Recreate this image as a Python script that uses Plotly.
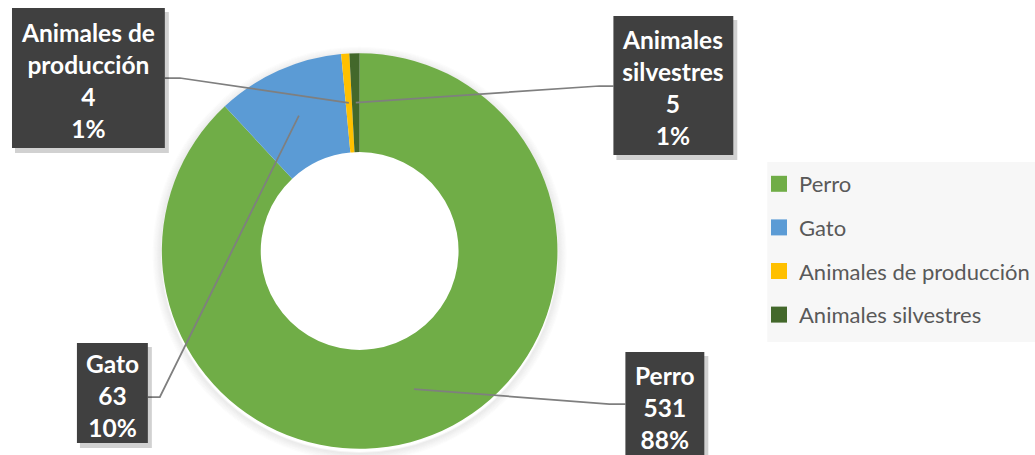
import plotly.graph_objects as go
import math

categories = ["Perro", "Gato", "Animales de producción", "Animales silvestres"]
values = [531, 63, 4, 5]
colors = ["#70AD47", "#5B9BD5", "#FFC000", "#43682B"]

W, H = 1035, 455
CX, CY, R = 360, 251, 198
HOLE = 0.5

# label boxes (pixel layout: x0, y0, x1, y1) and leader-line elbow points
boxes = {
    "Perro": (626, 352, 705, 470),
    "Gato": (77, 343, 148, 443),
    "Animales de producción": (12, 8, 165, 148),
    "Animales silvestres": (614, 16, 734, 155),
}
text_cy = {"Perro": 407, "Gato": 395, "Animales de producción": 80, "Animales silvestres": 87}
anchors = {  # (box edge point, elbow point)
    "Perro": ((626, 404), (610, 404)),
    "Gato": ((148, 397), (160, 397)),
    "Animales de producción": ((165, 78), (180, 78)),
    "Animales silvestres": ((614, 86), (600, 86)),
}
display_lines = {
    "Animales de producción": "Animales de<br>producción",
    "Animales silvestres": "Animales<br>silvestres",
}

def px(x):
    return x / W

def py(y):
    return (H - y) / H

fig = go.Figure()
fig.add_trace(go.Pie(
    labels=categories, values=values, hole=HOLE, sort=False,
    direction="clockwise", rotation=0,
    marker=dict(colors=colors, line=dict(color="#FFFFFF", width=0)),
    textinfo="none", showlegend=False,
    domain=dict(x=[px(CX - R), px(CX + R)], y=[py(CY + R), py(CY - R)]),
))

# legend via dummy traces for spacing control
for i, (c, col) in enumerate(zip(categories, colors)):
    fig.add_trace(go.Scatter(
        x=[None], y=[None], mode="markers", name=c, legendgroup=c,
        marker=dict(symbol="square", size=16, color=col),
    ))

shapes = []
annotations = []

# soft shadow ring around the donut
for k in range(1, 10):
    rr = R + k
    shapes.append(dict(type="circle", xref="paper", yref="paper",
                       x0=px(CX - rr), x1=px(CX + rr), y0=py(CY + 3 + rr), y1=py(CY + 3 - rr),
                       line=dict(color=f"rgba(0,0,0,{0.05 - 0.005 * k:.3f})", width=2),
                       layer="below"))

total = sum(values)
cum = 0
for c, v in zip(categories, values):
    mid = (cum + v / 2) / total * 2 * math.pi
    cum += v
    rmid = R * (1 + HOLE) / 2
    sx = CX + rmid * math.sin(mid)
    sy = CY - rmid * math.cos(mid)
    (ex, ey), (bx, by) = anchors[c]
    path = f"M {px(ex)} {py(ey)} L {px(bx)} {py(by)} L {px(sx)} {py(sy)}"
    shapes.append(dict(type="path", path=path, xref="paper", yref="paper",
                       line=dict(color="#7F7F7F", width=1.75), layer="above"))
    x0, y0, x1, y1 = boxes[c]
    # shadow
    shapes.append(dict(type="rect", xref="paper", yref="paper",
                       x0=px(x0 + 3), x1=px(x1 + 4), y0=py(y0 + 4), y1=py(y1 + 5),
                       fillcolor="rgba(0,0,0,0.18)", line=dict(width=0), layer="above"))
    shapes.append(dict(type="rect", xref="paper", yref="paper",
                       x0=px(x0), x1=px(x1), y0=py(y0), y1=py(y1),
                       fillcolor="#404040", line=dict(width=0), layer="above"))
    pct = round(v / total * 100)
    name = display_lines.get(c, c)
    annotations.append(dict(
        x=px((x0 + x1) / 2), y=py(text_cy[c]), xref="paper", yref="paper",
        text=f"<b>{name}<br>{v}<br>{pct}%</b>", showarrow=False,
        font=dict(family="Lato", size=24.5, color="#FFFFFF"),
        xanchor="center", yanchor="middle", align="center",
    ))

# legend background
shapes.append(dict(type="rect", xref="paper", yref="paper",
                   x0=px(768), x1=px(1040), y0=py(162), y1=py(342),
                   fillcolor="#F7F7F7", line=dict(width=0), layer="below"))

fig.update_layout(
    width=W, height=H,
    margin=dict(l=0, r=0, t=0, b=0),
    paper_bgcolor="#FFFFFF", plot_bgcolor="rgba(0,0,0,0)",
    xaxis=dict(visible=False), yaxis=dict(visible=False),
    shapes=shapes, annotations=annotations,
    showlegend=True,
    legend=dict(
        x=px(760), y=py(163), xanchor="left", yanchor="top",
        bgcolor="rgba(0,0,0,0)", font=dict(family="Lato", size=22, color="#595959"),
        tracegroupgap=12,
    ),
)

fig.write_html("out.html", config={"displayModeBar": False},
               post_script="document.body.style.margin='0';")
